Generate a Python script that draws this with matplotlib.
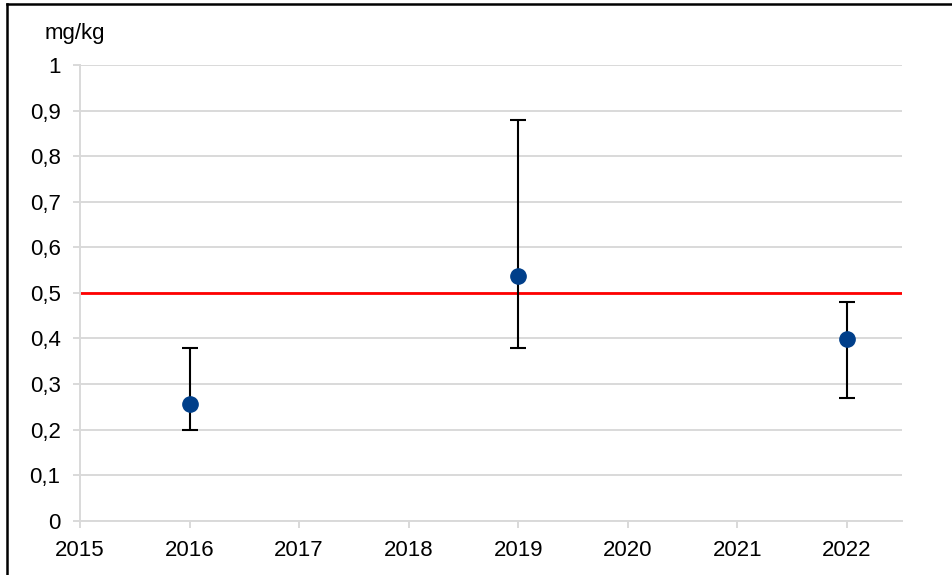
import numpy as np
import matplotlib.pyplot as plt
from matplotlib.lines import Line2D

# Data
years     = [2016, 2019, 2022]
means     = [0.256, 0.537, 0.398]
err_low   = [0.20, 0.38, 0.27]
err_high  = [0.38, 0.88, 0.48]
limit_val = 0.5
x_ticks   = list(range(2015, 2023))
y_ticks   = [0, 0.1, 0.2, 0.3, 0.4, 0.5, 0.6, 0.7, 0.8, 0.9, 1]
y_labels  = ["0", "0,1", "0,2", "0,3", "0,4", "0,5", "0,6", "0,7", "0,8", "0,9", "1"]

plt.rcParams['font.family'] = ['Liberation Sans', 'DejaVu Sans']

W, H = 953, 575
fig = plt.figure(figsize=(W / 100, H / 100), dpi=100)
ax = fig.add_axes([80 / W, (H - 520.7) / H, (901.7 - 80) / W, (520.7 - 65) / H])

GRID = '#d9d9d9'

ax.set_axisbelow(True)
ax.yaxis.grid(True, color=GRID, lw=1.4)
ax.axhline(limit_val, color='#ff0000', lw=2.0, zorder=2)

means_a = np.array(means)
yerr = [means_a - np.array(err_low), np.array(err_high) - means_a]
ax.errorbar(years, means, yerr=yerr, fmt='o', color='#003f8a', ms=11,
            ecolor='black', elinewidth=1.5, capsize=6, capthick=1.5, zorder=3)

ax.set_xlim(2015, 2022.5)
ax.set_ylim(0, 1)
ax.set_xticks(x_ticks)
ax.set_xticklabels([str(x) for x in x_ticks])
ax.set_yticks(y_ticks)
ax.set_yticklabels(y_labels)

for s in ['top', 'right']:
    ax.spines[s].set_visible(False)
for s in ['left', 'bottom']:
    ax.spines[s].set_color(GRID)
    ax.spines[s].set_linewidth(1.4)

ax.tick_params(axis='both', colors=GRID, labelcolor='black', labelsize=16,
               length=5, width=1.4)
ax.tick_params(axis='y', pad=9)
ax.tick_params(axis='x', pad=9)

fig.text(45 / W, (H - 33) / H, "mg/kg", fontsize=16, va='center', ha='left')

# outer chart frame (cropped on right and bottom)
fig.add_artist(Line2D([7 / W, 7 / W], [0, (H - 4) / H], transform=fig.transFigure,
                      color='black', lw=1.8))
fig.add_artist(Line2D([7 / W, 1], [(H - 4) / H, (H - 4) / H], transform=fig.transFigure,
                      color='black', lw=1.8))

fig.savefig('out.png', dpi=100)
